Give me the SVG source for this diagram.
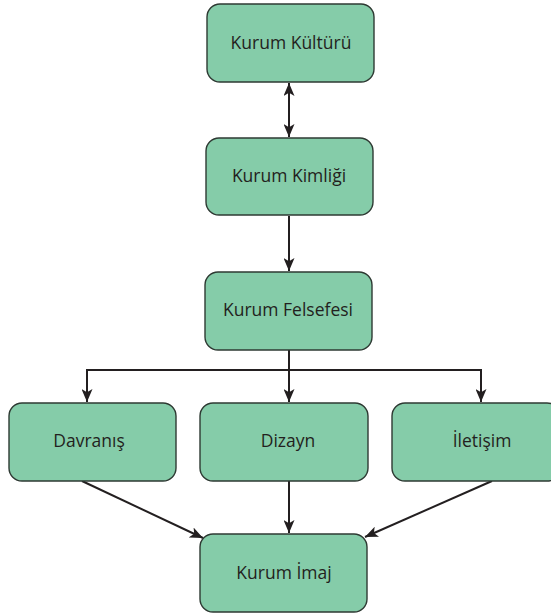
<svg xmlns="http://www.w3.org/2000/svg" width="551" height="615" viewBox="0 0 551 615">
<style>
.box{fill:#85cca9;stroke:#2e3a33;stroke-width:1.4}
.t{font-family:"Open Sans","Noto Sans",sans-serif;font-size:17.5px;fill:#231f20;text-anchor:middle}
.c{stroke:#231f20;stroke-width:2;fill:none}
</style>
<defs>
<marker id="a" viewBox="0 0 10 10" refX="10" refY="5" markerWidth="13" markerHeight="11" markerUnits="userSpaceOnUse" orient="auto-start-reverse" preserveAspectRatio="none">
<path d="M0,0 L10,5 L0,10 L2.5,5 z" fill="#231f20"/>
</marker>
</defs>
<rect width="551" height="615" fill="#fff"/>
<g id="connectors">
<line class="c" x1="289" y1="83" x2="289" y2="137" marker-start="url(#a)" marker-end="url(#a)"/>
<line class="c" x1="289" y1="216" x2="289" y2="271" marker-end="url(#a)"/>
<path class="c" d="M289,350 V370"/>
<path class="c" d="M87,402 V370 H481 V402" marker-start="url(#a)" marker-end="url(#a)"/>
<line class="c" x1="289" y1="370" x2="289" y2="402" marker-end="url(#a)"/>
<line class="c" x1="82" y1="481" x2="203" y2="538" marker-end="url(#a)"/>
<line class="c" x1="289" y1="481" x2="289" y2="533" marker-end="url(#a)"/>
<line class="c" x1="492" y1="481" x2="365" y2="537" marker-end="url(#a)"/>
</g>
<g id="kultur"><rect class="box" x="207" y="4" width="167" height="78" rx="13"/><text class="t" x="291" y="49">Kurum Kültürü</text></g>
<g id="kimlik"><rect class="box" x="206" y="138" width="167" height="77" rx="13"/><text class="t" x="289" y="182">Kurum Kimliği</text></g>
<g id="felsefe"><rect class="box" x="205" y="272" width="167" height="78" rx="13"/><text class="t" x="288" y="316">Kurum Felsefesi</text></g>
<g id="davranis"><rect class="box" x="9" y="403" width="167" height="78" rx="13"/><text class="t" x="89" y="447">Davranış</text></g>
<g id="dizayn"><rect class="box" x="200" y="403" width="168" height="78" rx="13"/><text class="t" x="288" y="447">Dizayn</text></g>
<g id="iletisim"><rect class="box" x="392" y="403" width="168" height="78" rx="13"/><text class="t" x="482" y="447">İletişim</text></g>
<g id="imaj"><rect class="box" x="200" y="534" width="167" height="78" rx="13"/><text class="t" x="284" y="579">Kurum İmaj</text></g>
</svg>
